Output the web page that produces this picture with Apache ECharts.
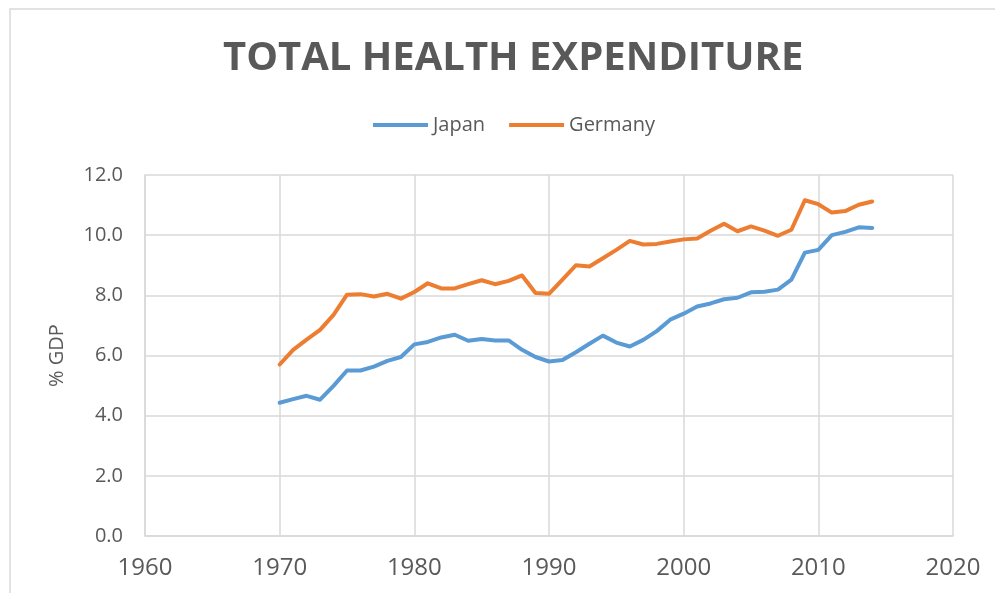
<!DOCTYPE html>
<html>
<head>
<meta charset="utf-8">
<script src="https://cdn.jsdelivr.net/npm/echarts@6/dist/echarts.min.js"></script>
<style>
  html, body { margin: 0; padding: 0; background: #fff; }
  #chart { width: 995px; height: 593px; }
</style>
</head>
<body>
<div id="chart"></div>
<script>
const years = [
  1970, 1971, 1972, 1973, 1974, 1975, 1976, 1977, 1978, 1979,
  1980, 1981, 1982, 1983, 1984, 1985, 1986, 1987, 1988, 1989,
  1990, 1991, 1992, 1993, 1994, 1995, 1996, 1997, 1998, 1999,
  2000, 2001, 2002, 2003, 2004, 2005, 2006, 2007, 2008, 2009,
  2010, 2011, 2012, 2013, 2014
]
const japan = [
  4.43, 4.55, 4.66, 4.53, 4.99, 5.50, 5.50, 5.63, 5.82, 5.95,
  6.37, 6.45, 6.60, 6.69, 6.49, 6.55, 6.50, 6.50, 6.19, 5.95,
  5.80, 5.85, 6.11, 6.39, 6.66, 6.43, 6.30, 6.52, 6.81, 7.19,
  7.39, 7.63, 7.73, 7.87, 7.92, 8.10, 8.12, 8.19, 8.52, 9.42,
  9.51, 10.00, 10.11, 10.26, 10.24
]
const germany = [
  5.70, 6.19, 6.53, 6.85, 7.35, 8.02, 8.04, 7.96, 8.05, 7.89,
  8.11, 8.40, 8.23, 8.23, 8.37, 8.50, 8.37, 8.48, 8.66, 8.08,
  8.05, 8.52, 9.00, 8.96, 9.23, 9.51, 9.81, 9.69, 9.71, 9.79,
  9.86, 9.89, 10.15, 10.38, 10.13, 10.29, 10.15, 9.98, 10.18, 11.16,
  11.03, 10.75, 10.80, 11.01, 11.12
]

const textColor = '#595959'
const gridColor = '#d9d9d9'
const font = '"Open Sans", "Noto Sans", sans-serif'

const chart = echarts.init(document.getElementById('chart'), null, { renderer: 'canvas' })

const toPairs = (vals) => years.map((y, i) => [y, vals[i]])

const option = {
  animation: false,
  backgroundColor: '#fff',
  textStyle: { fontFamily: font, color: textColor },
  title: {
    text: 'TOTAL HEALTH EXPENDITURE',
    left: 218,
    top: 34,
    textStyle: {
      fontFamily: font,
      fontSize: 40,
      fontWeight: 'bold',
      color: textColor,
    },
  },
  legend: {
    top: 110,
    left: 368,
    icon: 'rect',
    itemWidth: 55,
    itemHeight: 4,
    itemGap: 24,
    textStyle: { fontSize: 20, color: textColor, fontFamily: font },
    data: ['Japan', 'Germany'],
  },
  graphic: [
    {
      type: 'rect',
      shape: { x: 10, y: 9, width: 1000, height: 600 },
      style: { fill: 'none', stroke: gridColor, lineWidth: 1.5 },
      silent: true,
    },
  ],
  grid: {
    left: 145,
    right: 42,
    top: 175,
    bottom: 57,
    containLabel: false,
  },
  xAxis: {
    type: 'value',
    min: 1960,
    max: 2020,
    interval: 10,
    axisLine: { show: true, lineStyle: { color: gridColor, width: 1.5 } },
    axisTick: { show: false },
    axisLabel: {
      fontSize: 24,
      color: textColor,
      margin: 20,
      fontFamily: font,
      formatter: (v) => String(v),
    },
    splitLine: { show: true, lineStyle: { color: gridColor, width: 1.5 } },
  },
  yAxis: {
    type: 'value',
    min: 0,
    max: 12,
    interval: 2,
    name: '% GDP',
    nameLocation: 'middle',
    nameRotate: 90,
    nameGap: 78,
    nameTextStyle: { fontSize: 20, color: textColor, fontFamily: font },
    axisLine: { show: true, lineStyle: { color: gridColor, width: 1.5 } },
    axisTick: { show: false },
    axisLabel: {
      fontSize: 20,
      color: textColor,
      margin: 22,
      fontFamily: font,
      formatter: (v) => v.toFixed(1),
    },
    splitLine: { show: true, lineStyle: { color: gridColor, width: 1.5 } },
  },
  series: [
    {
      name: 'Japan',
      type: 'line',
      data: toPairs(japan),
      showSymbol: false,
      symbol: 'none',
      itemStyle: { color: '#5b9bd5' },
      lineStyle: { color: '#5b9bd5', width: 4, cap: 'round', join: 'round' },
    },
    {
      name: 'Germany',
      type: 'line',
      data: toPairs(germany),
      showSymbol: false,
      symbol: 'none',
      itemStyle: { color: '#ed7d31' },
      lineStyle: { color: '#ed7d31', width: 4, cap: 'round', join: 'round' },
    },
  ],
}

chart.setOption(option)
</script>
</body>
</html>
